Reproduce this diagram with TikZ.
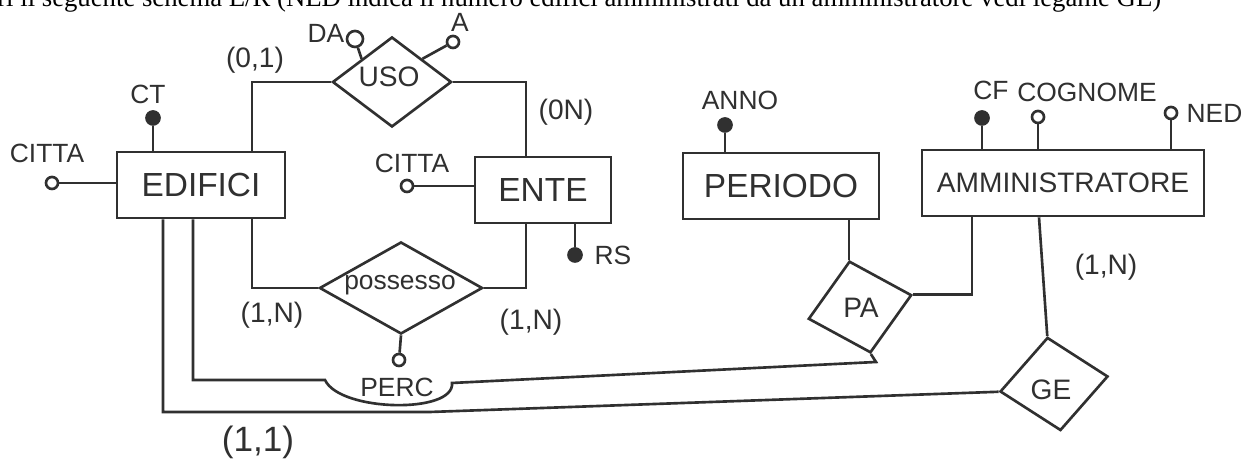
\documentclass[tikz,border=0pt]{standalone}
\usepackage{fontspec}
\setmainfont{Liberation Sans}
\newfontfamily\titlefont{Liberation Serif}
\usetikzlibrary{shapes.geometric,positioning,calc}
\definecolor{pen}{HTML}{303030}

\begin{document}
\begin{tikzpicture}[x=0.01cm, y=-0.01cm, line width=0.75pt, color=pen,
    entity/.style={draw, rectangle, inner sep=0pt, minimum height=0.66cm, font=\fontsize{9.5}{11}\selectfont},
    rel/.style={draw, diamond, inner sep=0pt},
    reltext/.style={inner sep=0pt, font=\fontsize{8}{10}\selectfont},
    attr/.style={draw, circle, inner sep=0pt, minimum size=0.12cm, fill=white},
    key/.style={attr, minimum size=0.13cm, fill=pen},
    lab/.style={inner sep=0pt, font=\fontsize{7.5}{9}\selectfont},
    card/.style={inner sep=0pt, font=\fontsize{8}{10}\selectfont}]
  \clip (0,0) rectangle (1254,459);
  \fill[white] (0,0) rectangle (1254,459);
  \node[anchor=base west, inner sep=0pt, text=black, font=\titlefont\fontsize{7.6}{9}\selectfont] (titolo) at (-4,7)
    {ri il seguente schema E/R (NED indica il numero edifici amministrati da un amministratore vedi legame GE)};

  \node[entity, minimum width=1.68cm] (edifici) at (201,185) {EDIFICI};
  \node[entity, minimum width=1.36cm] (ente) at (543,190) {ENTE};
  \node[entity, minimum width=1.96cm] (periodo) at (781,186) {PERIODO};
  \node[entity, minimum width=2.82cm, font=\fontsize{8}{10}\selectfont] (amm) at (1063,183) {AMMINISTRATORE};

  \node[rel, minimum width=1.19cm, minimum height=0.90cm] (uso) at (392,82) {};
  \node[reltext] (usolab) at (389,77) {USO};
  \node[rel, minimum width=1.63cm, minimum height=0.92cm] (poss) at (401,288) {};
  \node[reltext, font=\fontsize{7.5}{9}\selectfont] (posslab) at (400,285) {possesso};
  \node[rel, minimum width=1.06cm, minimum height=0.94cm, rotate=13] (pa) at (860,307) {};
  \node[reltext] (palab) at (861,308) {PA};
  \node[rel, minimum width=1.09cm, minimum height=0.94cm, rotate=8] (ge) at (1054,384) {};
  \node[reltext] (gelab) at (1051,390) {GE};

  \node[key] (ct) at (153,118) {};
  \node[lab] (ctlab) at (148,94) {CT};
  \node[attr] (citta1) at (52,183) {};
  \node[lab] (citta1lab) at (47,153) {CITTA};
  \node[attr, minimum size=0.16cm] (da) at (355,39) {};
  \node[lab] (dalab) at (326,33) {DA};
  \node[attr] (a) at (453,42) {};
  \node[lab] (alab) at (460,22) {A};
  \node[attr] (citta2) at (407,186) {};
  \node[lab] (citta2lab) at (412,163) {CITTA};
  \node[key] (rs) at (575,255) {};
  \node[lab, right=3pt of rs] (rslab) {RS};
  \node[attr] (perc) at (399,360) {};
  \node[lab] (perclab) at (397,387) {PERC};
  \node[key] (anno) at (725,125) {};
  \node[lab] (annolab) at (740,100) {ANNO};
  \node[key] (cf) at (982,118) {};
  \node[lab] (cflab) at (991,90) {CF};
  \node[attr] (cogn) at (1038,117) {};
  \node[lab] (cognlab) at (1087,92) {COGNOME};
  \node[attr] (ned) at (1171,113) {};
  \node[lab, right=2pt of ned] (nedlab) {NED};

  \draw (ct) -- (ct |- edifici.north);
  \draw (citta1) -- (citta1 -| edifici.west);
  \draw (da) -- (uso.north west);
  \draw (a) -- (uso.north east);
  \draw (citta2) -- (citta2 -| ente.west);
  \draw (rs) -- (rs |- ente.south);
  \draw (perc) -- (poss.south);
  \draw (anno) -- (anno |- periodo.north);
  \draw (cf) -- (cf |- amm.north);
  \draw (cogn) -- (cogn |- amm.north);
  \draw (ned) -- (ned |- amm.north);

  \draw (uso.west) -| ($(edifici.north)+(51,0)$);
  \draw (uso.east) -| ($(ente.north)+(-17,0)$);
  \draw (poss.west) -| ($(edifici.south)+(51,0)$);
  \draw (poss.east) -| ($(ente.south)+(-17,0)$);
  \draw (edifici.south) ++(-8,0) |- (325,380) .. controls (340,412) and (455,414) .. (452,383) -- (876,362) -- (pa.south);
  \draw (edifici.south) ++(-38,0) |- (430,412) -- (ge.west);
  \draw (pa.north) -- (pa.north |- periodo.south);
  \draw (pa.east) -| ($(amm.south)+(-91,0)$);
  \draw ($(amm.south)+(-24,0)$) -- (ge.north);

  \node[card] (c01) at (255,60) {(0,1)};
  \node[card] (c0n) at (566,112) {(0N)};
  \node[card] (c1n1) at (272,315) {(1,N)};
  \node[card] (c1n2) at (531,322) {(1,N)};
  \node[card] (c1n3) at (1106,267) {(1,N)};
  \node[card, font=\fontsize{10}{12}\selectfont] (c11) at (258,442) {(1,1)};
\end{tikzpicture}
\end{document}
